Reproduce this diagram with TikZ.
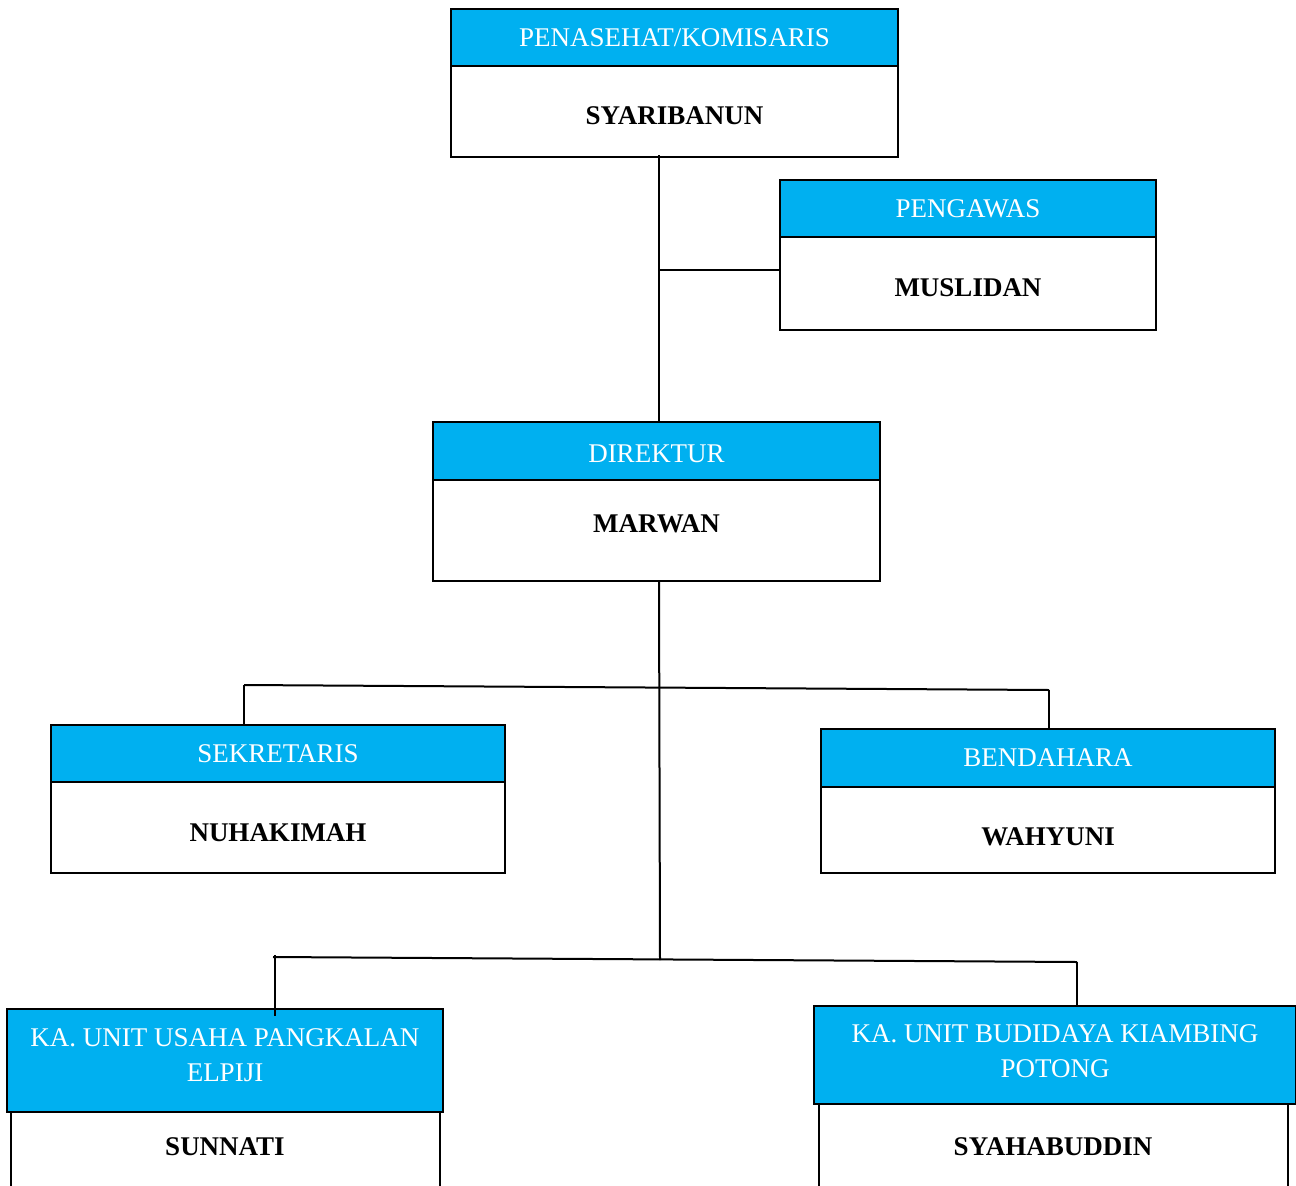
\documentclass[tikz,border=0pt]{standalone}
\usepackage{fontspec}
\setmainfont{Liberation Serif}
\usepackage{xcolor}
\usepackage{tikz}
\usetikzlibrary{positioning}

\definecolor{headblue}{HTML}{00B0F0}

\begin{document}
\begin{tikzpicture}[x=1pt, y=-1pt,
    head/.style={draw, fill=headblue, text=white, align=center, inner sep=0pt, outer sep=0pt, line width=2pt, font=\fontsize{27}{35}\selectfont},
    body/.style 2 args={draw, fill=white, inner sep=0pt, outer sep=0pt, line width=2pt, text height=#1pt, text depth=#2pt, font=\fontsize{27}{35}\selectfont\bfseries},
    link/.style={line width=2pt}
]
    \useasboundingbox (0,0) rectangle (1296,1186);
    \clip (0,0) rectangle (1296,1186);

    % Penasehat
    \node[head, minimum width=447pt, minimum height=57pt, anchor=north west] (penhead) at (451,9) {PENASEHAT/KOMISARIS};
    \node[body={58}{33}, minimum width=447pt, below=0pt of penhead] (penbody) {SYARIBANUN};

    % Pengawas
    \node[head, minimum width=376pt, minimum height=57pt, anchor=north west] (penghead) at (780,180) {PENGAWAS};
    \node[body={59}{34}, minimum width=376pt, below=0pt of penghead] (pengbody) {MUSLIDAN};

    % Direktur
    \node[head, minimum width=447pt, minimum height=58pt, text height=23pt, text depth=0pt, anchor=north west] (dirhead) at (433,422) {DIREKTUR};
    \node[body={52}{49}, minimum width=447pt, below=0pt of dirhead] (dirbody) {MARWAN};

    % Sekretaris and Bendahara
    \node[head, minimum width=454pt, minimum height=57pt, anchor=north west] (sekhead) at (51,725) {SEKRETARIS};
    \node[body={59}{32}, minimum width=454pt, below=0pt of sekhead] (sekbody) {NUHAKIMAH};
    \node[head, minimum width=454pt, minimum height=58pt, anchor=north west] (bendhead) at (821,729) {BENDAHARA};
    \node[body={58}{28}, minimum width=454pt, below=0pt of bendhead] (bendbody) {WAHYUNI};

    % Unit heads
    \node[head, minimum width=436pt, minimum height=103pt, text depth=10pt, anchor=north west] (panghead) at (7,1009) {KA. UNIT USAHA PANGKALAN\\ELPIJI};
    \node[body={43}{120}, minimum width=429pt, below=0pt of panghead] (pangbody) {SUNNATI};
    \node[head, minimum width=482pt, minimum height=98pt, text depth=8pt, anchor=north west] (budhead) at (814,1006) {KA. UNIT BUDIDAYA KIAMBING\\POTONG};
    \node[body={51}{120}, minimum width=469pt, below=0pt of budhead, xshift=-2pt] (budbody) {SYAHABUDDIN};

    % Connectors
    \coordinate (trunk) at (659,155);
    \coordinate (pengjoin) at (659,270);
    \coordinate (busA-l) at (244,685);
    \coordinate (busA-r) at (1049,690);
    \coordinate (busB-l) at (273,957);
    \coordinate (busB-r) at (1077,962);
    \coordinate (busB-mid) at (660,960);
    \coordinate (pangdrop) at (275,955);

    \draw[link] (trunk) -- (trunk |- dirhead.north);
    \draw[link] (pengjoin) -- (pengjoin -| penghead.west);
    \draw[link] (trunk |- dirbody.south) -- (busB-mid);
    \draw[link] (busA-l) -- (busA-r);
    \draw[link] (busA-l) -- (busA-l |- sekhead.north);
    \draw[link] (busA-r) -- (busA-r |- bendhead.north);
    \draw[link] (busB-l) -- (busB-r);
    \draw[link] (pangdrop) -- (pangdrop |- 0,1016);
    \draw[link] (busB-r) -- (busB-r |- budhead.north);
\end{tikzpicture}
\end{document}
